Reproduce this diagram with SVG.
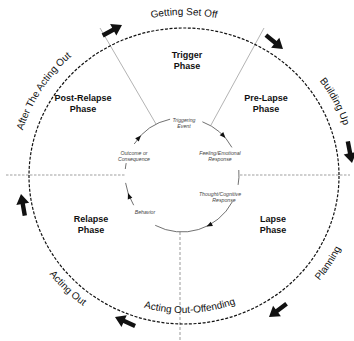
<svg xmlns="http://www.w3.org/2000/svg" xmlns:xlink="http://www.w3.org/1999/xlink" width="354" height="341" viewBox="0 0 354 341">
<style>
.outer{fill:none;stroke:#111;stroke-width:1.2;stroke-dasharray:3 1.6}
.inner{fill:none;stroke:#333;stroke-width:0.7}
.guide{fill:none;stroke:#a0a0a0;stroke-width:1.2;stroke-dasharray:2.5 1.5}
.div{fill:none;stroke:#666;stroke-width:0.5}
.vdiv{fill:none;stroke:#555;stroke-width:0.6;stroke-dasharray:3 2}
.big{fill:#111}
.tri{fill:#111}
.phase{font-family:"Liberation Sans",Arial,sans-serif;font-weight:bold;font-size:9px;text-anchor:middle;fill:#111}
.stage{font-family:"Liberation Sans",Arial,sans-serif;font-size:10px;fill:#111}
.step{font-family:"Liberation Sans",Arial,sans-serif;font-style:italic;font-size:5.2px;fill:#444;text-anchor:middle}
</style>
<defs>
<path id="bigArrow" d="M-22,-2.2 L-10,-2.2 L-10,-6.5 L0,0 L-10,6.5 L-10,2.2 L-22,2.2 Z"/>
<path id="smallArrow" d="M0,0 L-6,-2.4 L-6,2.4 Z"/>
<path id="pGetting" d="M55.3,72.5 A168,161 0 0 1 312.7,72.5"/>
<path id="pBuilding" d="M275.5,40.9 A168,161 0 0 1 351.8,184.4"/>
<path id="pAfter" d="M16.1,170.4 A168,161 0 0 1 105.1,33.8"/>
<path id="pPlanning" d="M265.6,323.5 A174,167 0 0 0 357.9,181.8"/>
<path id="pOffending" d="M73.7,264.1 A144,137 0 0 0 301.9,254.6"/>
<path id="pActing" d="M20.8,217.9 A169,162 0 0 0 140.3,332.5"/>
</defs>
<rect width="354" height="341" fill="#fff"/>

<g id="connectors">
  <line class="guide" x1="6" y1="175" x2="125" y2="175"/>
  <line class="guide" x1="240" y1="175" x2="350" y2="175"/>
  <line class="vdiv" x1="180" y1="232" x2="180" y2="341"/>
  <line class="div" x1="100" y1="28" x2="156" y2="124"/>
  <line class="div" x1="264" y1="28" x2="211" y2="125"/>
  <ellipse class="outer" cx="184" cy="176" rx="155" ry="148"/>
  <path class="inner" d="M134.2,144.0 A57,57 0 0 1 170.1,119.2"/>
  <path class="inner" d="M202.4,121.8 A57,57 0 0 1 231.9,147.4"/>
  <path class="inner" d="M238.8,170.0 A57,57 0 0 1 238.1,184.9"/>
  <path class="inner" d="M232.3,201.8 A57,57 0 0 1 155.2,225.3"/>
  <path class="inner" d="M133.7,205.2 A57,57 0 0 1 125.6,182.9"/>
  <path class="inner" d="M125.3,169.0 A57,57 0 0 1 126.2,163.1"/>
  <use href="#smallArrow" class="tri" transform="translate(141,135.5) rotate(-48)"/>
  <use href="#smallArrow" class="tri" transform="translate(225.5,138) rotate(48)"/>
  <use href="#smallArrow" class="tri" transform="translate(206.5,226.5) rotate(153)"/>
  <use href="#smallArrow" class="tri" transform="translate(128,193) rotate(250)"/>
  <use href="#bigArrow" class="big" transform="translate(122,25) rotate(-28.6)"/>
  <use href="#bigArrow" class="big" transform="translate(283,49) rotate(39)"/>
  <use href="#bigArrow" class="big" transform="translate(352,163) rotate(79)"/>
  <use href="#bigArrow" class="big" transform="translate(269,317) rotate(143)"/>
  <use href="#bigArrow" class="big" transform="translate(115,317) rotate(204)"/>
  <use href="#bigArrow" class="big" transform="translate(21,194) rotate(260)"/>
</g>

<g id="stage-getting-set-off"><text class="stage"><textPath href="#pGetting" startOffset="50%" text-anchor="middle">Getting Set Off</textPath></text></g>
<g id="stage-building-up"><text class="stage"><textPath href="#pBuilding" startOffset="50%" text-anchor="middle">Building Up</textPath></text></g>
<g id="stage-planning"><text class="stage"><textPath href="#pPlanning" startOffset="50%" text-anchor="middle">Planning</textPath></text></g>
<g id="stage-acting-out-offending"><text class="stage"><textPath href="#pOffending" startOffset="50%" text-anchor="middle">Acting Out-Offending</textPath></text></g>
<g id="stage-acting-out"><text class="stage"><textPath href="#pActing" startOffset="50%" text-anchor="middle">Acting Out</textPath></text></g>
<g id="stage-after"><text class="stage"><textPath href="#pAfter" startOffset="50%" text-anchor="middle">After The Acting Out</textPath></text></g>

<g id="phase-trigger"><text class="phase" x="187" y="58">Trigger</text><text class="phase" x="187" y="69">Phase</text></g>
<g id="phase-pre-lapse"><text class="phase" x="266" y="101">Pre-Lapse</text><text class="phase" x="266" y="112">Phase</text></g>
<g id="phase-lapse"><text class="phase" x="273" y="222">Lapse</text><text class="phase" x="273" y="233">Phase</text></g>
<g id="phase-relapse"><text class="phase" x="91" y="222">Relapse</text><text class="phase" x="91" y="233">Phase</text></g>
<g id="phase-post-relapse"><text class="phase" x="83" y="101">Post-Relapse</text><text class="phase" x="83" y="112">Phase</text></g>

<g id="step-triggering-event"><text class="step" x="184" y="122">Triggering</text><text class="step" x="184" y="127.5">Event</text></g>
<g id="step-feeling"><text class="step" x="220" y="155">Feeling/Emotional</text><text class="step" x="220" y="161">Response</text></g>
<g id="step-thought"><text class="step" x="220" y="196">Thought/Cognitive</text><text class="step" x="224" y="202">Response</text></g>
<g id="step-behavior"><text class="step" x="145" y="214">Behavior</text></g>
<g id="step-outcome"><text class="step" x="134" y="155">Outcome or</text><text class="step" x="134" y="161">Consequence</text></g>
</svg>
